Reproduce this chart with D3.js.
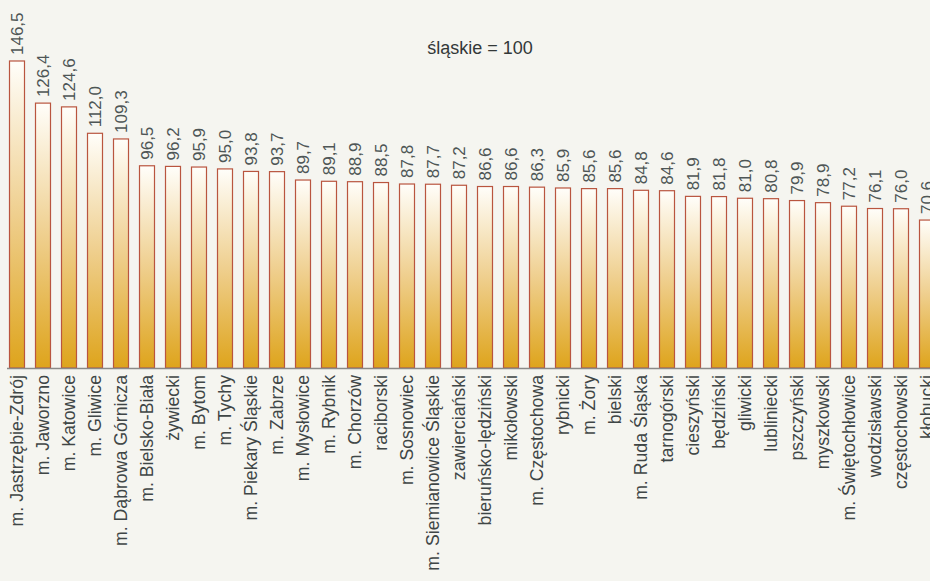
<!DOCTYPE html>
<html>
<head>
<meta charset="utf-8">
<script src="https://cdn.jsdelivr.net/npm/d3@7"></script>
<style>
html,body{margin:0;padding:0;background:#f5f5f0;}
svg{display:block;}
text{font-family:"Liberation Sans",Arial,sans-serif;}
</style>
</head>
<body>
<svg id="chart" width="930" height="581"></svg>
<script>
const categories = ["m. Jastrzębie-Zdrój","m. Jaworzno","m. Katowice","m. Gliwice","m. Dąbrowa Górnicza","m. Bielsko-Biała","żywiecki","m. Bytom","m. Tychy","m. Piekary Śląskie","m. Zabrze","m. Mysłowice","m. Rybnik","m. Chorzów","raciborski","m. Sosnowiec","m. Siemianowice Śląskie","zawierciański","bieruńsko-lędziński","mikołowski","m. Częstochowa","rybnicki","m. Żory","bielski","m. Ruda Śląska","tarnogórski","cieszyński","będziński","gliwicki","lubliniecki","pszczyński","myszkowski","m. Świętochłowice","wodzisławski","częstochowski","kłobucki"];
const values = [146.5,126.4,124.6,112.0,109.3,96.5,96.2,95.9,95.0,93.8,93.7,89.7,89.1,88.9,88.5,87.8,87.7,87.2,86.6,86.6,86.3,85.9,85.6,85.6,84.8,84.6,81.9,81.8,81.0,80.8,79.9,78.9,77.2,76.1,76.0,70.6];
const title = "śląskie = 100";

const svg = d3.select("#chart");
const data = categories.map((c,i)=>({c, v: values[i]}));

const x = d3.scaleBand().domain(categories).range([4, 940]).paddingInner(10/26).paddingOuter(5/26);
const y = d3.scaleLinear().domain([0,150]).range([368, 368 - 150*2.0956]);

const defs = svg.append("defs");
const grad = defs.append("linearGradient").attr("id","barGrad").attr("x1",0).attr("y1",0).attr("x2",0).attr("y2",1);
grad.append("stop").attr("offset","0%").attr("stop-color","#fffefa");
grad.append("stop").attr("offset","50%").attr("stop-color","#efcf8e");
grad.append("stop").attr("offset","100%").attr("stop-color","#dea41c");

svg.append("g").selectAll("rect").data(data).join("rect")
  .attr("x", d=>x(d.c)+0.5)
  .attr("y", d=>y(d.v))
  .attr("width", x.bandwidth()-1)
  .attr("height", d=>y(0)-y(d.v))
  .attr("fill","url(#barGrad)")
  .attr("stroke","#b9553f")
  .attr("stroke-width",1.2);

// baseline
svg.append("line").attr("x1",7).attr("x2",930).attr("y1",y(0)+0.5).attr("y2",y(0)+0.5)
  .attr("stroke","#8a8a88").attr("stroke-width",1.6);

const fmt = v => v.toFixed(1).replace(".",",");

svg.append("g").selectAll("text").data(data).join("text")
  .attr("transform", d=>`translate(${x(d.c)+x.bandwidth()/2},${y(d.v)-6}) rotate(-90)`)
  .attr("dy","0.35em")
  .attr("text-anchor","start")
  .attr("fill","#4e5656")
  .style("font-size","17px")
  .text(d=>fmt(d.v));

svg.append("g").selectAll("text").data(data).join("text")
  .attr("transform", d=>`translate(${x(d.c)+x.bandwidth()/2},375) rotate(-90)`)
  .attr("dy","0.35em")
  .attr("text-anchor","end")
  .attr("fill","#3f4646")
  .style("font-size","17.7px")
  .text(d=>d.c);

svg.append("text").attr("x",480).attr("y",54).attr("text-anchor","middle")
  .attr("fill","#333838").style("font-size","18px").text(title);
</script>
</body>
</html>
